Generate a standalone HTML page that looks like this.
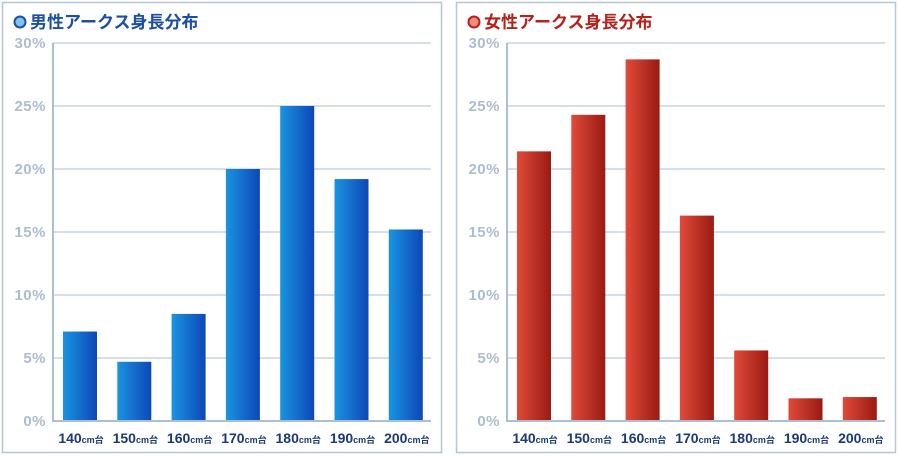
<!DOCTYPE html>
<html><head><meta charset="utf-8"><style>
html,body{margin:0;padding:0;background:#fff;width:899px;height:457px;overflow:hidden}
svg{display:block;font-family:"Liberation Sans","Noto Sans CJK JP",sans-serif}
</style></head><body>
<svg id="c" width="899" height="457">
<defs>
<linearGradient id="gb" x1="0" x2="1" y1="0" y2="0"><stop offset="0" stop-color="#1a94e0"/><stop offset="1" stop-color="#0d47b8"/></linearGradient>
<linearGradient id="gr" x1="0" x2="1" y1="0" y2="0"><stop offset="0" stop-color="#e04a3a"/><stop offset="1" stop-color="#9a1a12"/></linearGradient>
</defs>
</svg>
<script>
const categories=["140","150","160","170","180","190","200"];
const maleValues=[7.1,4.7,8.5,20,25,19.2,15.2];
const femaleValues=[21.4,24.3,28.7,16.3,5.6,1.8,1.9];
const tickValues=[0,5,10,15,20,25,30];
const tickLabels=["0%","5%","10%","15%","20%","25%","30%"];
const NS="http://www.w3.org/2000/svg";
const svg=document.getElementById('c');
function mk(t,a,p){const e=document.createElementNS(NS,t);for(const k in a)e.setAttribute(k,a[k]);(p||svg).appendChild(e);return e;}
function panel(px,title,color,grad,vals,key,iconFill){
  const g=mk('g',{});
  
  
  const fr=mk('rect',{x:px+0.5,y:2.5,width:439,height:450,fill:'#fff',stroke:'#b4c6d8','stroke-width':1.5},g);
  
  
  const ic=mk('circle',{cx:px+18,cy:22,r:5.5,fill:iconFill,stroke:color,'stroke-width':2},g);
  
  
  const t=mk('text',{x:px+28,y:28,'font-size':17,'font-weight':'bold',fill:color},g);t.textContent=title;
  
  
  const ax=px+51, right=px+429, y0=421, y1=43;
  const ys=v=>y0-(v/30)*(y0-y1);
  const xs=i=>ax+27+i*54.3;
  tickValues.forEach((v,i)=>{
    const l=mk('line',{x1:ax,x2:right,y1:ys(v),y2:ys(v),stroke:'#a9bfd3','stroke-width':1},g);
    
    
    const tl=mk('text',{x:ax-7,y:ys(v)+5,'text-anchor':'end','font-size':15,'font-weight':'bold',fill:'#adbdd0','letter-spacing':'0.5'},g);tl.textContent=tickLabels[i];
    
    
  });
  vals.forEach((v,i)=>{
    const b=mk('rect',{x:xs(i)-17,y:ys(v),width:34,height:y0-ys(v),fill:grad},g);
    
    
    const lb=mk('text',{x:xs(i)+1,y:443,'text-anchor':'middle',fill:'#1a3a78','font-weight':'bold'},g);
    const a=mk('tspan',{'font-size':14},lb);a.textContent=categories[i];
    const c=mk('tspan',{'font-size':9},lb);c.textContent='cm台';
    
    
  });
  const ya=mk('line',{x1:ax,x2:ax,y1:y1,y2:y0+1,stroke:'#a9bfd3','stroke-width':2},g);
  
  
  const xa=mk('line',{x1:ax,x2:right,y1:y0,y2:y0,stroke:'#a9bfd3','stroke-width':2},g);
  
  
}
panel(2,'男性アークス身長分布','#1b4ea6','url(#gb)',maleValues,'male','#7fc4ee');
panel(456,'女性アークス身長分布','#b8201a','url(#gr)',femaleValues,'female','#f08a80');
</script>
</body></html>
